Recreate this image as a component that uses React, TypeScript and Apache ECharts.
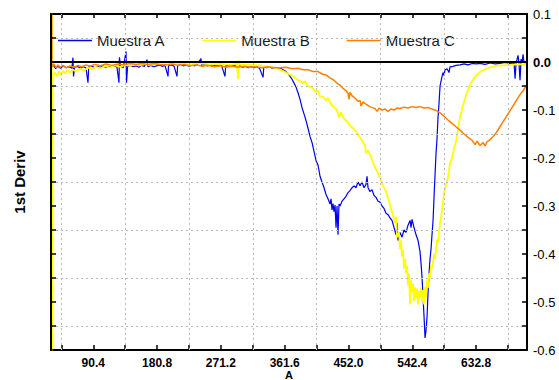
import React, { useEffect, useRef } from "react";
import * as echarts from "echarts";

const FONT = '"Liberation Sans", Arial, Helvetica, sans-serif';

const xLabelValues = [90.4, 180.8, 271.2, 361.6, 452.0, 542.4, 632.8];
const xTickValues = [45.2, 90.4, 135.6, 180.8, 226.0, 271.2, 316.4, 361.6, 406.8, 452.0, 497.2, 542.4, 587.6, 632.8, 678.0];
const xGridValues = [45.2, 135.6, 226.0, 316.4, 406.8, 497.2, 587.6, 678.0];
const yGridValues = [0.05, -0.05, -0.15, -0.25, -0.35, -0.45, -0.55];

const seriesNames = ["Muestra A", "Muestra B", "Muestra C"];

// Muestra A (blue)
const xA = [31, 34, 37, 40, 44, 48, 52, 56, 60, 61.6, 62.4, 64, 68, 72, 76, 80, 82.9, 84, 88, 92, 96, 100, 104, 108, 112, 116, 120, 124, 126.8, 127.5, 129, 133, 136.8, 137.5, 139, 143, 147, 151, 155, 159, 163, 166.5, 168, 172, 176, 180, 184, 188, 192, 196.3, 197, 201, 205, 209, 210, 214, 218, 222, 226, 230, 234, 238, 243, 244, 248, 252, 256, 260, 264, 268, 272, 277, 278, 282, 286, 290, 294, 298, 302, 306, 310, 314, 318, 322, 326, 331, 332, 336, 340, 344, 348, 352, 355,
  359.3, 363.5, 366.4, 369.2, 372.0, 374.9, 377.7, 380.5, 383.4, 386.2, 389.0, 391.9, 394.7, 397.5, 400.4, 403.2, 406.0, 408.9, 411.7, 414.5, 417.4, 420.2, 423.0, 425.9, 427.3, 428.7, 430.1, 431.5, 433.0, 434.4, 435.8, 437.2, 438.6, 440.0, 442.9, 445.7, 448.5, 451.4, 454.2, 457.0, 459.9, 462.7, 465.5, 468.4, 471.2, 474.0, 476.9, 478.3, 479.7, 482.6, 485.4, 488.2, 491.1, 493.9, 496.7, 499.6, 502.4, 505.2, 508.1, 510.9, 513.7, 516.6, 519.4, 520.8, 522.2, 525.1, 527.9, 530.7, 533.6, 536.4, 539.3, 540.7, 542.1, 544.9, 547.8, 550.6, 553.4, 554.9, 556.3, 557.7, 559.1, 560.5, 561.9, 563.4, 564.8, 566.2, 567.6, 569.0, 570.4, 571.9, 573.3, 574.7, 576.1, 577.5, 578.9, 580.4, 581.8, 583.2, 584.6, 586.0, 587.4, 588.9, 591.7, 594.5, 595.9, 600.2, 604.4, 610.1, 615.8, 621.5, 627.1, 632.8, 638.5, 645.6, 652.6, 659.7, 666.8, 673.9, 681.0, 686.7, 688.1, 689.5, 692.3, 693.7, 695.1, 696.6, 698.0, 699.4, 700.8, 703.6];
const yA = [-0.012, -0.006, -0.014, -0.009, -0.013, -0.008, -0.012, -0.010, -0.013, 0.009, -0.030, -0.011, -0.009, -0.013, -0.010, -0.012, -0.043, -0.010, -0.008, -0.012, -0.009, -0.011, -0.008, -0.012, -0.009, -0.010, -0.008, -0.011, -0.043, 0.010, -0.009, -0.012, 0.022, -0.043, -0.010, -0.007, -0.010, -0.008, -0.011, -0.007, -0.009, 0.005, -0.010, -0.007, -0.010, -0.008, -0.006, -0.009, -0.007, -0.030, -0.008, -0.006, -0.009, -0.030, -0.007, -0.005, -0.008, -0.006, -0.009, -0.006, -0.008, -0.005, 0.007, -0.007, -0.005, -0.008, -0.006, -0.009, -0.006, -0.008, -0.006, -0.030, -0.008, -0.007, -0.009, -0.007, -0.010, -0.008, -0.011, -0.009, -0.012, -0.010, -0.012, -0.010, -0.013, -0.032, -0.011, -0.012, -0.010, -0.013, -0.011, -0.014, -0.012,
  -0.016, -0.020, -0.024, -0.030, -0.036, -0.044, -0.052, -0.064, -0.078, -0.095, -0.108, -0.122, -0.138, -0.155, -0.168, -0.186, -0.205, -0.215, -0.238, -0.250, -0.262, -0.276, -0.285, -0.296, -0.285, -0.308, -0.295, -0.312, -0.298, -0.345, -0.300, -0.360, -0.296, -0.300, -0.290, -0.285, -0.280, -0.272, -0.268, -0.262, -0.258, -0.262, -0.250, -0.258, -0.250, -0.262, -0.255, -0.238, -0.262, -0.270, -0.266, -0.278, -0.282, -0.290, -0.292, -0.300, -0.305, -0.315, -0.318, -0.325, -0.330, -0.345, -0.360, -0.335, -0.372, -0.355, -0.365, -0.350, -0.355, -0.340, -0.330, -0.345, -0.328, -0.345, -0.360, -0.372, -0.395, -0.420, -0.450, -0.490, -0.530, -0.575, -0.560, -0.530, -0.480, -0.440, -0.410, -0.390, -0.360, -0.330, -0.280, -0.235, -0.190, -0.160, -0.115, -0.085, -0.050, -0.040, -0.030, -0.022, -0.028, -0.016, -0.014, -0.022, -0.010, -0.009, -0.007, -0.006, -0.004, -0.006, -0.003, -0.004, -0.003, -0.005, -0.002, -0.004, -0.003, -0.001, -0.003, -0.002, -0.035, -0.003, 0.014, -0.005, -0.038, 0.006, -0.002, 0.016, -0.001, -0.002];

// Muestra B (yellow)
const xB = [31.6, 32.0, 33.3, 36.1, 39.0, 41.8, 44.6, 47.5, 50.3, 53.1, 57.4, 61.6, 65.9, 71.6, 77.2, 82.9, 88.6, 94.2, 99.9, 107.0, 114.1, 121.2, 128.3, 135.4, 142.4, 149.5, 156.6, 163.7, 170.8, 185.0, 199.1, 213.3, 227.5, 241.6, 255.8, 270.0, 284.2, 294.1, 295.5, 296.2, 298.3, 312.5, 326.7, 340.8, 349.3, 357.8, 366.4, 373.5, 380.5, 387.6, 390.5, 394.7, 401.8, 404.6, 408.9, 411.7, 415.9, 420.2, 423.0, 427.3, 431.5, 435.8, 438.6, 441.4, 445.7, 449.9, 454.2, 458.5, 462.7, 466.9, 471.2, 475.5, 476.9, 479.7, 484.0, 488.2, 492.5, 496.7, 501.0, 505.2, 509.5, 512.3, 515.2, 518.0, 519.4, 520.8, 523.6, 525.1, 526.5, 527.9, 529.3, 530.7, 532.2, 533.6, 535.0, 536.4, 537.8, 539.3, 540.7, 542.1, 543.5, 544.9, 546.4, 547.8, 549.2, 550.6, 552.0, 553.4, 554.9, 556.3, 557.7, 559.1, 560.5, 561.9, 563.4, 564.8, 566.2, 567.6, 569.0, 570.4, 573.3, 574.7, 577.5, 578.9, 581.8, 584.6, 587.4, 590.3, 593.1, 595.9, 598.8, 601.6, 604.4, 607.3, 610.1, 614.4, 618.6, 622.9, 627.1, 632.8, 638.5, 645.6, 652.6, 661.1, 671.0, 681.0, 692.3, 703.6];
const yB = [0.2, -0.7, -0.028, -0.022, -0.030, -0.020, -0.026, -0.018, -0.024, -0.017, -0.022, -0.016, -0.020, -0.014, -0.018, -0.012, -0.015, -0.010, -0.013, -0.009, -0.011, -0.007, -0.010, -0.006, -0.008, -0.005, -0.007, -0.004, -0.006, -0.004, -0.005, -0.003, -0.005, -0.003, -0.005, -0.004, -0.006, -0.004, -0.036, 0.004, -0.005, -0.006, -0.007, -0.010, -0.013, -0.018, -0.024, -0.030, -0.038, -0.044, -0.040, -0.050, -0.055, -0.062, -0.060, -0.072, -0.072, -0.080, -0.075, -0.088, -0.094, -0.100, -0.115, -0.105, -0.118, -0.124, -0.132, -0.138, -0.145, -0.154, -0.163, -0.175, -0.190, -0.184, -0.198, -0.215, -0.228, -0.240, -0.258, -0.270, -0.290, -0.305, -0.320, -0.335, -0.322, -0.365, -0.355, -0.390, -0.372, -0.405, -0.392, -0.430, -0.410, -0.440, -0.425, -0.465, -0.440, -0.505, -0.455, -0.480, -0.462, -0.498, -0.470, -0.490, -0.472, -0.505, -0.478, -0.492, -0.470, -0.500, -0.475, -0.505, -0.468, -0.490, -0.455, -0.470, -0.440, -0.450, -0.425, -0.430, -0.400, -0.410, -0.370, -0.375, -0.335, -0.310, -0.275, -0.255, -0.240, -0.210, -0.200, -0.180, -0.165, -0.140, -0.115, -0.090, -0.070, -0.052, -0.040, -0.028, -0.021, -0.015, -0.011, -0.008, -0.007, -0.006, -0.005, -0.005];

// Muestra C (orange)
const xC = [31.4, 31.9, 34.7, 37.6, 40.4, 43.2, 47.5, 51.7, 57.4, 63.1, 68.7, 74.4, 80.1, 85.7, 92.8, 99.9, 108.4, 116.9, 125.4, 133.9, 142.4, 150.9, 159.4, 167.9, 176.4, 185.0, 193.5, 202.0, 210.5, 218.9, 227.5, 236.0, 244.5, 253.0, 261.5, 270.0, 278.5, 287.0, 295.5, 304.0, 312.5, 321.0, 329.5, 338.0, 346.5, 355.0, 363.5, 372.0, 380.5, 387.6, 394.7, 401.8, 408.9, 414.5, 420.2, 425.9, 431.5, 435.8, 440.0, 444.3, 448.5, 451.4, 452.8, 454.2, 457.0, 461.3, 465.5, 468.4, 469.8, 472.6, 476.9, 481.1, 485.4, 489.6, 492.5, 495.3, 499.6, 503.8, 508.1, 512.3, 516.6, 520.8, 525.1, 530.7, 536.4, 542.1, 547.8, 553.4, 559.1, 564.8, 570.4, 576.1, 581.8, 587.4, 593.1, 598.8, 604.4, 610.1, 615.8, 621.5, 627.1, 631.4, 634.2, 638.5, 642.7, 645.6, 648.4, 652.6, 656.9, 661.1, 665.4, 669.6, 673.9, 678.1, 682.4, 686.7, 690.9, 695.1, 699.4, 703.6];
const yC = [0.15, -0.010, -0.004, -0.012, -0.006, -0.011, -0.007, -0.012, -0.008, -0.011, -0.007, -0.010, -0.006, -0.009, -0.005, -0.008, -0.004, -0.007, -0.004, -0.006, -0.003, -0.005, -0.003, -0.005, -0.003, -0.005, -0.006, -0.004, -0.007, -0.005, -0.008, -0.006, -0.009, -0.007, -0.010, -0.008, -0.011, -0.009, -0.011, -0.009, -0.011, -0.010, -0.012, -0.010, -0.012, -0.012, -0.011, -0.014, -0.013, -0.016, -0.016, -0.020, -0.020, -0.025, -0.027, -0.033, -0.038, -0.044, -0.048, -0.055, -0.060, -0.065, -0.078, -0.063, -0.070, -0.075, -0.082, -0.080, -0.092, -0.083, -0.088, -0.092, -0.095, -0.097, -0.103, -0.096, -0.100, -0.098, -0.103, -0.098, -0.100, -0.096, -0.097, -0.094, -0.096, -0.093, -0.095, -0.093, -0.096, -0.095, -0.098, -0.101, -0.106, -0.113, -0.121, -0.128, -0.135, -0.142, -0.150, -0.157, -0.163, -0.172, -0.165, -0.174, -0.168, -0.175, -0.166, -0.162, -0.155, -0.148, -0.138, -0.128, -0.118, -0.108, -0.098, -0.088, -0.078, -0.068, -0.060, -0.050];

const pair = (xs: number[], ys: number[]) => xs.map((x, i) => [x, ys[i]]);

export default function App() {
  const ref = useRef<HTMLDivElement>(null);
  useEffect(() => {
    if (!ref.current) return;
    const chart = echarts.init(ref.current, undefined, { renderer: "svg" });
    const X_MIN = 30.5;
    const X_MAX = 705;
    const axisLineStyle = { color: "#000", width: 2 };
    chart.setOption({
      animation: false,
      backgroundColor: "#ffffff",
      grid: { left: 51, right: 32, top: 14, bottom: 30, containLabel: false, outerBoundsMode: "none" },
      legend: {
        data: seriesNames,
        left: 53,
        top: 28,
        icon: "rect",
        itemWidth: 34,
        itemHeight: 1.5,
        itemGap: 37,
        textStyle: { fontFamily: FONT, fontSize: 15, color: "#1a1a1a" },
      },
      xAxis: [
        {
          type: "value",
          position: "bottom",
          min: X_MIN,
          max: X_MAX,
          name: "A",
          nameLocation: "middle",
          nameGap: 20,
          nameMoveOverlap: false,
          nameTextStyle: { fontFamily: FONT, fontSize: 11, fontWeight: "bold", color: "#000", verticalAlign: "top", lineHeight: 9 },
          axisLine: { show: true, onZero: false, lineStyle: axisLineStyle },
          axisTick: { show: true, inside: true, length: 5, customValues: xTickValues, lineStyle: { color: "#000", width: 1.5 } },
          axisLabel: {
            show: true,
            customValues: xLabelValues,
            margin: 6.5,
            lineHeight: 12,
            formatter: (v: number) => v.toFixed(1),
            fontFamily: FONT,
            fontSize: 12,
            fontWeight: "bold",
            color: "#000",
          },
          splitLine: { show: false },
        },
        {
          type: "value",
          position: "top",
          min: X_MIN,
          max: X_MAX,
          axisLine: { show: true, onZero: false, lineStyle: axisLineStyle },
          axisTick: { show: true, inside: true, length: 4, customValues: xTickValues, lineStyle: { color: "#000", width: 1.5 } },
          axisLabel: { show: false },
          splitLine: { show: false },
        },
      ],
      yAxis: [
        {
          type: "value",
          position: "left",
          min: -0.6,
          max: 0.1,
          interval: 0.05,
          name: "1st Deriv",
          nameLocation: "middle",
          nameRotate: 90,
          nameGap: 24,
          nameTextStyle: { fontFamily: FONT, fontSize: 15, fontWeight: "bold", color: "#000" },
          axisLine: { show: true, onZero: false, lineStyle: axisLineStyle },
          axisTick: { show: true, inside: true, length: 5, lineStyle: { color: "#000", width: 1.5 } },
          axisLabel: { show: false },
          splitLine: { show: false },
          z: 10,
        },
        {
          type: "value",
          position: "right",
          min: -0.6,
          max: 0.1,
          interval: 0.05,
          axisLine: { show: true, onZero: false, lineStyle: axisLineStyle },
          axisTick: { show: true, inside: true, length: 5, lineStyle: { color: "#000", width: 1.5 } },
          axisLabel: {
            show: true,
            margin: 6,
            fontFamily: FONT,
            fontSize: 13,
            color: "#000",
            formatter: (v: number) => {
              const k = Math.round(v * 20);
              if (k % 2 !== 0) return "";
              if (k === 0) return "{b|0.0}";
              return (k / 20).toFixed(1);
            },
            rich: { b: { fontFamily: FONT, fontSize: 13, fontWeight: "bold", color: "#000" } },
          },
          splitLine: { show: false },
          z: 10,
        },
      ],
      series: [
        {
          type: "line",
          name: "grid",
          xAxisIndex: 0,
          yAxisIndex: 0,
          data: [],
          silent: true,
          z: 1,
          markLine: {
            silent: true,
            symbol: ["none", "none"],
            label: { show: false },
            animation: false,
            lineStyle: { type: [2, 3], color: "#b8b8b8", width: 1 },
            data: [
              ...xGridValues.map((v) => ({ xAxis: v })),
              ...yGridValues.map((v) => ({ yAxis: v })),
              { yAxis: 0, lineStyle: { type: "solid", color: "#000", width: 2 } },
            ],
          },
        },
        {
          type: "line",
          name: seriesNames[0],
          data: pair(xA, yA),
          symbol: "none",
          showSymbol: false,
          clip: true,
          z: 3,
          color: "#0000ee",
          lineStyle: { color: "#0000ee", width: 1.2 },
        },
        {
          type: "line",
          name: seriesNames[1],
          data: pair(xB, yB),
          symbol: "none",
          showSymbol: false,
          clip: true,
          z: 4,
          color: "#ffff00",
          lineStyle: { color: "#ffff00", width: 1.8 },
        },
        {
          type: "line",
          name: seriesNames[2],
          data: pair(xC, yC),
          symbol: "none",
          showSymbol: false,
          clip: true,
          z: 5,
          color: "#ff8000",
          lineStyle: { color: "#ff8000", width: 1.5 },
        },
      ],
    });
    return () => chart.dispose();
  }, []);
  return <div ref={ref} style={{ position: "fixed", left: 0, top: 0, width: 559, height: 380 }} />;
}
